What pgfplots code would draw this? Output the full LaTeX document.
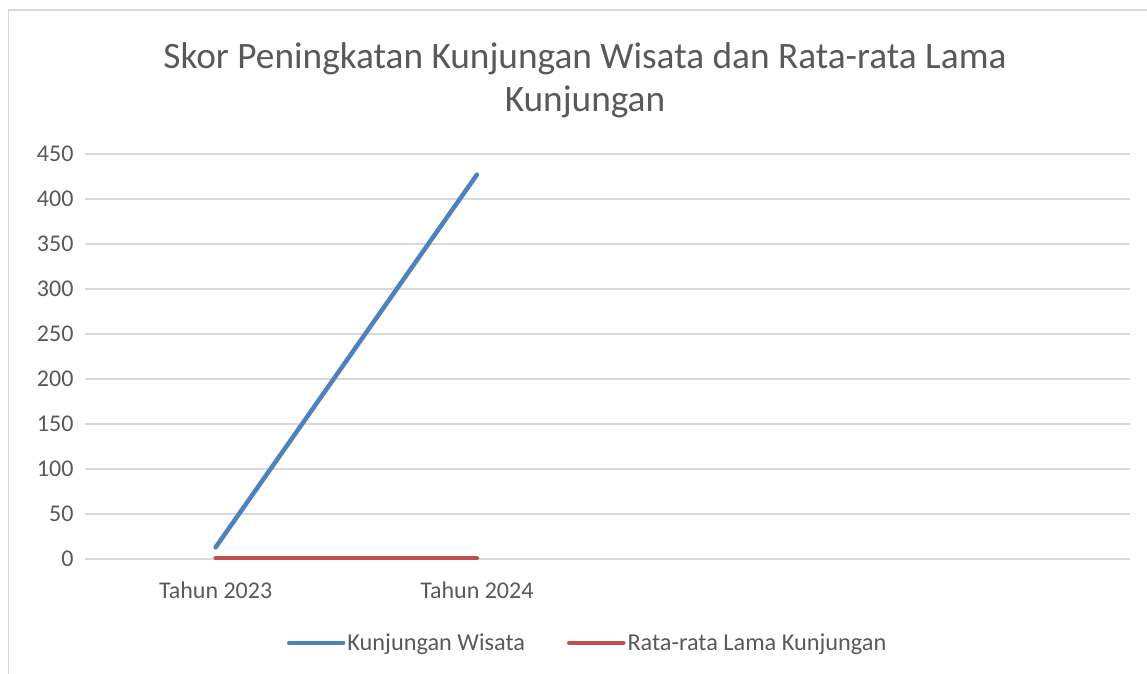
\documentclass[border=0pt]{standalone}
\usepackage{pgfplots}
\pgfplotsset{compat=1.18}
\usepackage{fontspec}
\setmainfont{Carlito}
\definecolor{txt}{HTML}{595959}
\definecolor{gridc}{HTML}{D9D9D9}
\definecolor{sblue}{HTML}{4F81BD}
\definecolor{sred}{HTML}{C0504D}
\begin{document}
\begin{tikzpicture}
\path[use as bounding box] (0,0) rectangle (1147bp,-674bp);
\draw[gridc, line width=1.5bp] (8.5bp,-674bp) -- (8.5bp,-10bp) -- (1147bp,-10bp);
\node[text=txt, font=\fontsize{37.3bp}{43bp}\selectfont, align=center] at (585bp,-80bp)
  {Skor Peningkatan Kunjungan Wisata dan Rata-rata Lama\\Kunjungan};
\begin{axis}[
  at={(85bp,-559bp)}, anchor=south west,
  scale only axis, width=1045bp, height=405bp,
  xmin=-0.5, xmax=3.5, ymin=0, ymax=450,
  xtick={0,1}, xticklabels={Tahun 2023, Tahun 2024},
  ytick={0,50,...,450},
  xmajorgrids=false, ymajorgrids=true,
  grid style={gridc, line width=1.3bp},
  axis line style={draw=none},
  major tick length=0pt, tick style={draw=none},
  tick label style={text=txt, font=\fontsize{24bp}{28bp}\selectfont},
  /pgf/number format/assume math mode=true,
  yticklabel style={xshift=-8bp},
  xticklabel style={yshift=-19bp},
  legend columns=2,
  legend style={at={(0.481,-0.207)}, anchor=center, draw=none, fill=none,
    font=\fontsize{24.3bp}{28bp}\selectfont, text=txt,
    /tikz/every even column/.append style={column sep=40bp},
    inner sep=0pt},
  legend image code/.code={\draw[#1, line cap=round] (0bp,0bp) -- (54bp,0bp);},
]
\addplot[sblue, line width=4.5bp, line cap=round] coordinates {(0,13) (1,427)};
\addlegendentry{Kunjungan Wisata}
\addplot[sred, line width=4.5bp, line cap=round] coordinates {(0,1) (1,1)};
\addlegendentry{Rata-rata Lama Kunjungan}
\end{axis}
\end{tikzpicture}
\end{document}
